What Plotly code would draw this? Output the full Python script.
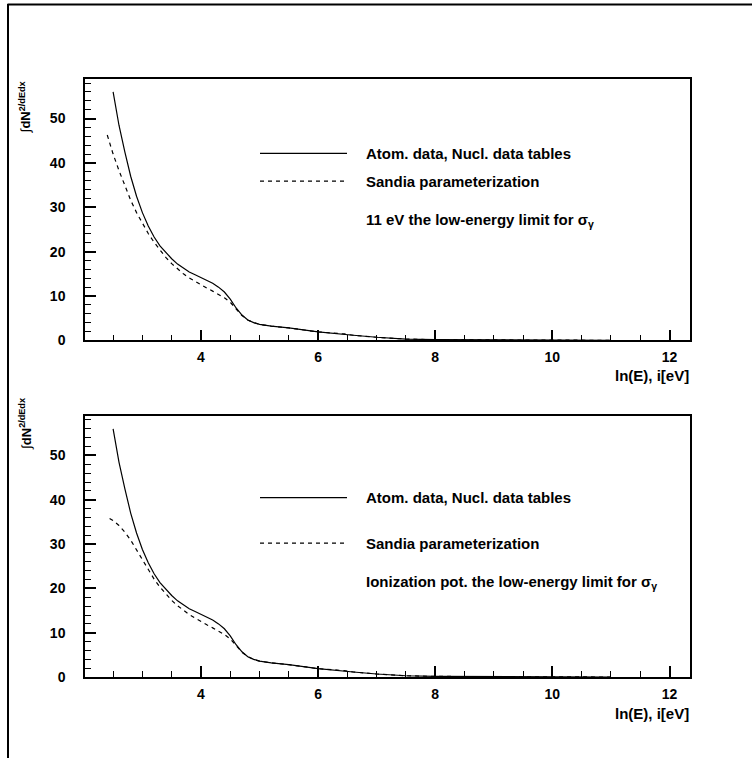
import plotly.graph_objects as go

W, H = 752, 758

# ---- data ----
e_solid = [2.5, 2.6, 2.7, 2.8, 2.9, 3.0, 3.1, 3.2, 3.3, 3.4, 3.5, 3.6, 3.7, 3.8, 3.9,
           4.0, 4.1, 4.2, 4.3, 4.4, 4.5, 4.6, 4.7, 4.8, 4.9, 5.0, 5.2, 5.5, 6.0, 6.45,
           6.6, 7.0, 7.5, 8.0, 9.0, 10.0, 11.0]
atom_data = [56.0, 48.5, 42.5, 37.0, 32.5, 28.8, 25.8, 23.3, 21.3, 19.8, 18.4, 17.2, 16.2,
             15.4, 14.8, 14.2, 13.6, 12.9, 12.0, 10.9, 9.3, 7.3, 5.7, 4.6, 4.0, 3.6, 3.2,
             2.8, 1.9, 1.45, 1.15, 0.7, 0.3, 0.15, 0.05, 0.02, 0.01]

e_sandia_top = [2.4, 2.5, 2.6, 2.7, 2.8, 2.9, 3.0, 3.1, 3.2, 3.3, 3.4, 3.5, 3.6, 3.7, 3.8,
                3.9, 4.0, 4.1, 4.2, 4.3, 4.4, 4.5, 4.6, 4.7, 4.8, 4.9, 5.0, 5.2, 5.5, 6.0,
                6.45, 6.6, 7.0, 7.5, 8.0, 9.0, 10.0, 11.0]
sandia_top = [46.3, 42.0, 38.3, 35.0, 31.6, 28.8, 26.3, 24.1, 22.1, 20.3, 18.7, 17.3, 16.1,
              15.0, 14.1, 13.3, 12.5, 11.8, 11.1, 10.4, 9.6, 8.6, 7.2, 5.6, 4.6, 4.0, 3.6,
              3.2, 2.8, 1.9, 1.45, 1.15, 0.7, 0.3, 0.15, 0.05, 0.02, 0.01]

e_sandia_bot = [2.44, 2.5, 2.6, 2.7, 2.8, 2.9, 3.0, 3.1, 3.2, 3.3, 3.4, 3.5, 3.6, 3.7, 3.8,
                3.9, 4.0, 4.1, 4.2, 4.3, 4.4, 4.5, 4.6, 4.7, 4.8, 4.9, 5.0, 5.2, 5.5, 6.0,
                6.45, 6.6, 7.0, 7.5, 8.0, 9.0, 10.0, 11.0]
sandia_bot = [35.8, 35.3, 34.2, 32.7, 30.9, 28.7, 26.3, 24.1, 22.1, 20.3, 18.7, 17.3, 16.1,
              15.0, 14.1, 13.3, 12.5, 11.8, 11.1, 10.4, 9.6, 8.6, 7.2, 5.6, 4.6, 4.0, 3.6,
              3.2, 2.8, 1.9, 1.45, 1.15, 0.7, 0.3, 0.15, 0.05, 0.02, 0.01]

label_solid = "<b>Atom. data, Nucl. data tables</b>"
label_dash = "<b>Sandia parameterization</b>"
note_top = "<b>11 eV the low-energy limit for </b>σ<sub>γ</sub>"
note_bot = "<b>Ionization pot. the low-energy limit for </b>σ<sub>γ</sub>"
x_title = "<b>ln(E), i[eV]</b>"
y_title = "∫<b>dN<sup>2/dEdx</sup></b>"

# ---- layout helpers (pixel -> paper) ----
def px(x):
    return x / W

def py(y):
    return 1 - y / H

FONT = "Liberation Sans, Arial, Helvetica, sans-serif"
DASH = "4px,4px"

fig = go.Figure()
fig.add_trace(go.Scatter(x=e_solid, y=atom_data, mode="lines", line=dict(color="black", width=1.2),
                         xaxis="x", yaxis="y", showlegend=False))
fig.add_trace(go.Scatter(x=e_sandia_top, y=sandia_top, mode="lines",
                         line=dict(color="black", width=1.2, dash=DASH),
                         xaxis="x", yaxis="y", showlegend=False))
fig.add_trace(go.Scatter(x=e_solid, y=atom_data, mode="lines", line=dict(color="black", width=1.2),
                         xaxis="x2", yaxis="y2", showlegend=False))
fig.add_trace(go.Scatter(x=e_sandia_bot, y=sandia_bot, mode="lines",
                         line=dict(color="black", width=1.2, dash=DASH),
                         xaxis="x2", yaxis="y2", showlegend=False))

xdom = [px(85), px(690)]
top_dom = [py(344), py(79.5)]
bot_dom = [py(684.3), py(420)]

def xax(anchor):
    return dict(domain=xdom, anchor=anchor, range=[2.02, 12.35], tick0=0, dtick=2,
                ticks="inside", ticklen=11, tickwidth=1.5, tickcolor="black",
                minor=dict(dtick=0.5, ticks="inside", ticklen=6, tickwidth=1, tickcolor="black"),
                showline=True, mirror=True, linecolor="black", linewidth=1.5,
                showgrid=False, zeroline=False, ticklabelstandoff=3,
                tickfont=dict(family=FONT, size=14, color="black", weight="bold"))

def yax(anchor, dom):
    return dict(domain=dom, anchor=anchor, range=[0, 59], tick0=0, dtick=10,
                ticks="inside", ticklen=11, tickwidth=1.5, tickcolor="black",
                minor=dict(dtick=2, ticks="inside", ticklen=6, tickwidth=1, tickcolor="black"),
                showline=True, mirror=True, linecolor="black", linewidth=1.5,
                showgrid=False, zeroline=False, ticklabelstandoff=15,
                tickfont=dict(family=FONT, size=14, color="black", weight="bold"))

annotations = []
shapes = []
tf = dict(family=FONT, size=15, color="black", weight="bold")

for (yl_solid, yl_dash, y_note, note, y_xt, y_yt) in [
        (155, 183, 223, note_top, 380, 80),
        (503, 549, 589, note_bot, 721, 400)]:
    shapes.append(dict(type="line", xref="paper", yref="paper", x0=px(260), x1=px(347),
                       y0=py(yl_solid), y1=py(yl_solid), line=dict(color="black", width=1.2)))
    shapes.append(dict(type="line", xref="paper", yref="paper", x0=px(260), x1=px(347),
                       y0=py(yl_dash), y1=py(yl_dash),
                       line=dict(color="black", width=1.2, dash=DASH)))
    annotations.append(dict(xref="paper", yref="paper", x=px(364), y=py(yl_solid), text=label_solid,
                            showarrow=False, xanchor="left", yanchor="middle", font=tf))
    annotations.append(dict(xref="paper", yref="paper", x=px(364), y=py(yl_dash), text=label_dash,
                            showarrow=False, xanchor="left", yanchor="middle", font=tf))
    annotations.append(dict(xref="paper", yref="paper", x=px(364), y=py(y_note), text=note,
                            showarrow=False, xanchor="left", yanchor="middle", font=tf))
    annotations.append(dict(xref="paper", yref="paper", x=px(691), y=py(y_xt), text=x_title,
                            showarrow=False, xanchor="right", yanchor="middle", font=tf))
    annotations.append(dict(xref="paper", yref="paper", x=px(25), y=py(y_yt), text=y_title,
                            textangle=-90, showarrow=False, xanchor="center", yanchor="top",
                            font=dict(family=FONT, size=13, color="black")))

# outer frame (top and left edges visible; right/bottom fall outside the window)
shapes.append(dict(type="line", xref="paper", yref="paper", x0=px(7.5), x1=1.02,
                   y0=py(4.5), y1=py(4.5), line=dict(color="black", width=2)))
shapes.append(dict(type="line", xref="paper", yref="paper", x0=px(8), x1=px(8),
                   y0=py(4), y1=-0.03, line=dict(color="black", width=2)))

fig.update_layout(
    width=W, height=H,
    margin=dict(l=0, r=0, t=0, b=0),
    paper_bgcolor="white", plot_bgcolor="white",
    xaxis=xax("y"), yaxis=yax("x", top_dom),
    xaxis2=xax("y2"), yaxis2=yax("x2", bot_dom),
    annotations=annotations, shapes=shapes,
    showlegend=False,
)

fig.write_html("out.html", config={"displayModeBar": False},
               post_script="document.body.style.margin='0';document.body.style.overflow='hidden';")
